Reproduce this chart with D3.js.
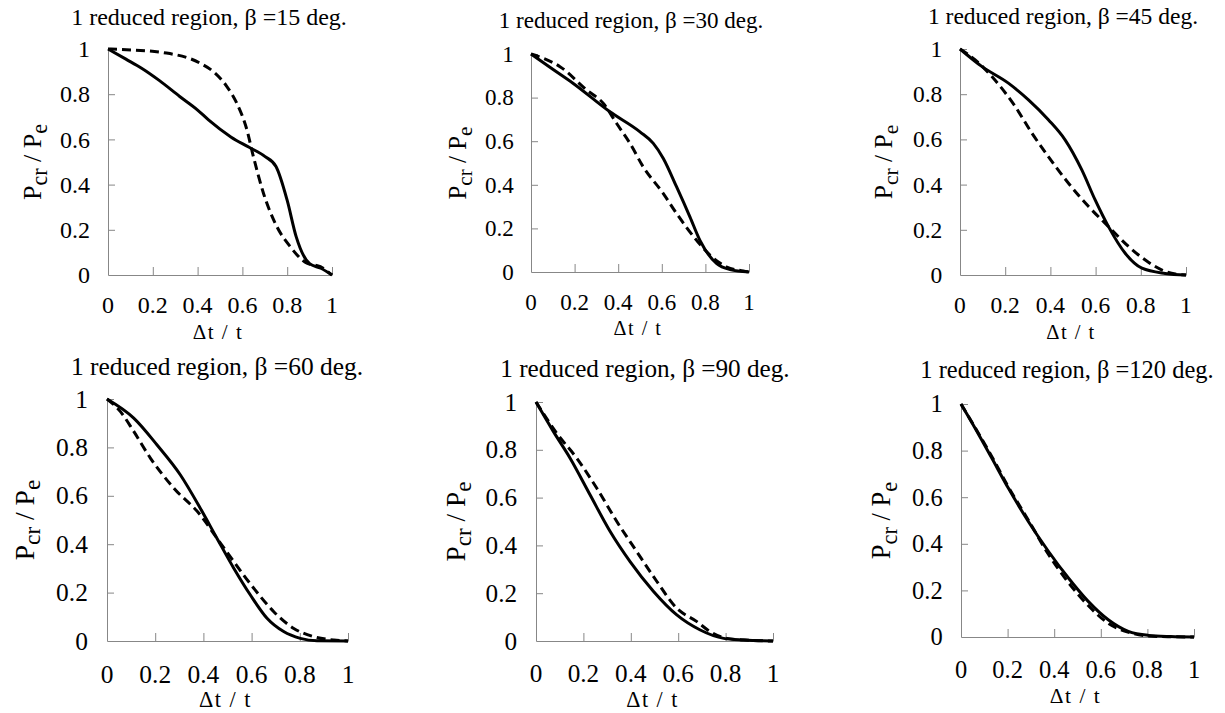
<!DOCTYPE html>
<html>
<head>
<meta charset="utf-8">
<script src="https://cdn.jsdelivr.net/npm/d3@7"></script>
<style>
  html, body { margin: 0; padding: 0; background: #fff; }
  svg { display: block; }
  svg text { font-family: "Liberation Serif", "Times New Roman", serif; }
</style>
</head>
<body>
<svg id="chart" width="1225" height="713"></svg>
<script>
// Critical load ratio P_cr / P_e against relative thickness reduction Δt / t
// for one reduced region at several angular extents β.
const betaDeg = [15, 30, 45, 60, 90, 120];
const xTickValues = [0, 0.2, 0.4, 0.6, 0.8, 1];
const yTickValues = [0, 0.2, 0.4, 0.6, 0.8, 1];

// solid curves: [Δt/t, Pcr/Pe]
const solid15 = [[0,1],[0.08,0.955],[0.15,0.915],[0.23,0.86],[0.32,0.79],[0.4,0.73],[0.45,0.685],[0.55,0.61],[0.63,0.565],[0.7,0.525],[0.75,0.48],[0.8,0.33],[0.84,0.17],[0.9,0.05],[0.95,0.03],[1,0]];
const solid30 = [[0,1],[0.1,0.93],[0.194,0.865],[0.362,0.735],[0.5,0.643],[0.561,0.59],[0.607,0.521],[0.668,0.39],[0.729,0.253],[0.775,0.145],[0.852,0.038],[0.913,0.011],[1,0]];
const solid45 = [[0,1],[0.096,0.923],[0.214,0.849],[0.303,0.775],[0.391,0.687],[0.465,0.598],[0.539,0.465],[0.598,0.332],[0.657,0.214],[0.731,0.096],[0.805,0.03],[0.908,0.007],[1,0]];
const solid60 = [[0,1],[0.111,0.921],[0.207,0.811],[0.304,0.687],[0.387,0.549],[0.456,0.425],[0.526,0.301],[0.595,0.19],[0.664,0.094],[0.733,0.039],[0.802,0.011],[0.871,0.001],[1,0]];
const solid90 = [[0,1],[0.073,0.877],[0.144,0.765],[0.228,0.612],[0.313,0.458],[0.397,0.332],[0.496,0.207],[0.594,0.109],[0.693,0.046],[0.792,0.011],[0.876,0.004],[1,0]];
const solid120 = [[0,1],[0.06,0.897],[0.132,0.768],[0.203,0.639],[0.289,0.496],[0.375,0.368],[0.461,0.253],[0.546,0.153],[0.632,0.074],[0.718,0.024],[0.804,0.007],[0.9,0.002],[1,0]];

// dashed curves: [Δt/t, Pcr/Pe]
const dashed15 = [[0,1],[0.082,0.997],[0.261,0.982],[0.41,0.938],[0.47,0.9],[0.53,0.835],[0.575,0.76],[0.62,0.643],[0.649,0.524],[0.694,0.362],[0.754,0.214],[0.813,0.126],[0.888,0.052],[0.948,0.037],[1,0]];
const dashed30 = [[0,1],[0.057,0.98],[0.133,0.942],[0.255,0.835],[0.332,0.773],[0.393,0.681],[0.454,0.59],[0.515,0.482],[0.607,0.36],[0.668,0.268],[0.76,0.145],[0.821,0.077],[0.898,0.023],[0.974,0.005],[1,0]];
const dashed45 = [[0,1],[0.066,0.953],[0.14,0.879],[0.244,0.746],[0.318,0.628],[0.391,0.524],[0.48,0.406],[0.569,0.303],[0.657,0.214],[0.746,0.126],[0.82,0.066],[0.894,0.022],[0.953,0.004],[1,0]];
const dashed60 = [[0,1],[0.055,0.949],[0.111,0.866],[0.18,0.756],[0.277,0.632],[0.387,0.521],[0.456,0.425],[0.526,0.328],[0.609,0.218],[0.692,0.121],[0.775,0.052],[0.858,0.018],[0.941,0.004],[1,0]];
const dashed90 = [[0,1],[0.087,0.87],[0.172,0.765],[0.256,0.64],[0.341,0.5],[0.425,0.374],[0.51,0.249],[0.594,0.137],[0.679,0.081],[0.735,0.039],[0.806,0.011],[0.9,0.003],[1,0]];
const dashed120 = [[0,1],[0.06,0.9],[0.132,0.775],[0.2,0.65],[0.29,0.5],[0.375,0.355],[0.46,0.235],[0.546,0.135],[0.63,0.06],[0.72,0.02],[0.8,0.005],[0.9,0.001],[1,0]];

const solidSeries = [solid15, solid30, solid45, solid60, solid90, solid120];
const dashedSeries = [dashed15, dashed30, dashed45, dashed60, dashed90, dashed120];

// plot frames (pixel boxes of each axis pair) and text placement per panel
const frames = [
  { l: 108, r: 332, t: 49,  b: 275, s: 1.00, tx: 209, ty: 25,  yl: 32,  xlb: 339, tickOff: 38 },
  { l: 531, r: 749, t: 54,  b: 272, s: 0.96, tx: 631, ty: 28,  yl: 457, xlb: 335, tickOff: 38 },
  { l: 960, r: 1186, t: 49, b: 275, s: 0.98, tx: 1063, ty: 24, yl: 883, xlb: 339, tickOff: 38 },
  { l: 107, r: 348, t: 399, b: 641, s: 1.06, tx: 217, ty: 375, yl: 24,  xlb: 707, tickOff: 42 },
  { l: 536, r: 773, t: 402, b: 641, s: 1.05, tx: 645, ty: 377, yl: 455, xlb: 707, tickOff: 41 },
  { l: 961, r: 1194, t: 404, b: 637, s: 1.02, tx: 1067, ty: 378, yl: 881, xlb: 703, tickOff: 41 }
];

const svg = d3.select("#chart");
const axisColor = "#878787";

frames.forEach((f, i) => {
  const x = d3.scaleLinear().domain([0, 1]).range([f.l, f.r]);
  const y = d3.scaleLinear().domain([0, 1]).range([f.b, f.t]);
  const g = svg.append("g");
  const tickFont = 24 * f.s;

  // x axis: gray line with inward ticks; labels sit well below it
  const xa = g.append("g").attr("transform", `translate(0,${f.b})`)
    .call(d3.axisTop(x).tickValues(xTickValues).tickSize(8).tickSizeOuter(0).tickFormat(() => ""));
  xa.selectAll("path, line").attr("stroke", axisColor).attr("stroke-width", 1);
  xa.selectAll(".tick line").attr("opacity", d => d === 0 ? 0 : 1);

  g.selectAll(".xlab").data(xTickValues).join("text")
    .attr("x", d => x(d))
    .attr("y", f.b + f.tickOff)
    .attr("text-anchor", "middle")
    .attr("font-size", tickFont)
    .text(d => d3.format("~g")(d));

  // y axis: gray line with inward ticks
  const ya = g.append("g").attr("transform", `translate(${f.l},0)`)
    .call(d3.axisRight(y).tickValues(yTickValues).tickSize(7).tickSizeOuter(0).tickFormat(() => ""));
  ya.selectAll("path, line").attr("stroke", axisColor).attr("stroke-width", 1);
  ya.selectAll(".tick line").attr("opacity", d => d === 0 ? 0 : 1);

  g.selectAll(".ylab").data(yTickValues).join("text")
    .attr("x", f.l - 18 * f.s)
    .attr("y", d => y(d))
    .attr("dy", "0.34em")
    .attr("text-anchor", "end")
    .attr("font-size", tickFont)
    .text(d => d3.format("~g")(d));

  // curves: dashed first, solid on top
  const line = d3.line().x(d => x(d[0])).y(d => y(d[1])).curve(d3.curveMonotoneX);
  g.append("path").datum(dashedSeries[i])
    .attr("d", line).attr("fill", "none").attr("stroke", "#000")
    .attr("stroke-width", 3).attr("stroke-dasharray", "9,5");
  g.append("path").datum(solidSeries[i])
    .attr("d", line).attr("fill", "none").attr("stroke", "#000")
    .attr("stroke-width", 3);

  // panel title
  g.append("text")
    .attr("x", f.tx).attr("y", f.ty)
    .attr("text-anchor", "middle")
    .attr("font-size", 24 * f.s)
    .text(`1 reduced region, \u03b2 =${betaDeg[i]} deg.`);

  // x axis title
  g.append("text")
    .attr("x", (f.l + f.r) / 2 - 2).attr("y", f.xlb)
    .attr("text-anchor", "middle")
    .attr("font-size", 21 * f.s)
    .attr("letter-spacing", 1.5)
    .text("\u0394t / t");

  // y axis title with subscripts
  const yt = g.append("text")
    .attr("transform", `translate(${f.yl},${(f.t + f.b) / 2}) rotate(-90)`)
    .attr("text-anchor", "middle")
    .attr("dy", "0.35em")
    .attr("font-size", 26 * f.s);
  yt.append("tspan").text("P");
  yt.append("tspan").attr("dy", "0.28em").attr("font-size", "0.85em").text("cr");
  yt.append("tspan").attr("dy", "-0.24em").text(" / P");
  yt.append("tspan").attr("dy", "0.28em").attr("font-size", "0.85em").text("e");
});
</script>
</body>
</html>
